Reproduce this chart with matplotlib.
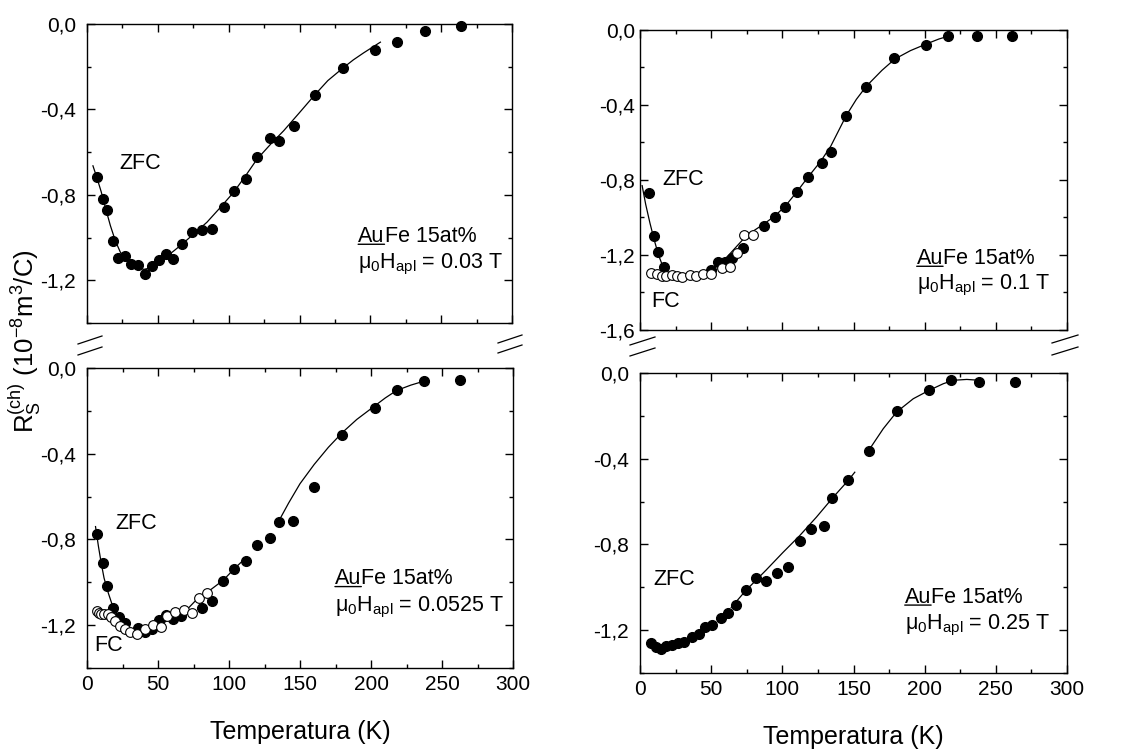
import matplotlib
matplotlib.use("Agg")
import matplotlib.pyplot as plt
from matplotlib.ticker import MultipleLocator, FuncFormatter
from matplotlib.lines import Line2D

plt.rcParams.update({
    "font.family": "Liberation Sans",
    "font.size": 15,
    "mathtext.default": "regular",
    "axes.linewidth": 1.0,
    "xtick.direction": "in",
    "ytick.direction": "in",
    "xtick.top": True,
    "ytick.right": True,
    "xtick.major.size": 6,
    "xtick.minor.size": 3,
    "ytick.major.size": 6,
    "ytick.minor.size": 3,
    "xtick.major.width": 1.0,
    "ytick.major.width": 1.0,
    "xtick.minor.width": 1.0,
    "ytick.minor.width": 1.0,
    "xtick.labelsize": 15,
    "ytick.labelsize": 15,
    "axes.unicode_minus": False,
})

# ---- data (T in K, R in 1e-8 m^3/C) ----
# mu0 H = 0.03 T
tl_T = [7.1, 11.3, 14.1, 18.4, 21.9, 26.6, 31.3, 35.8, 40.9, 45.9, 50.6, 56.0, 60.9, 67.1, 74.1,
        81.2, 88.2, 96.5, 104.0, 112.2, 120.0, 129.2, 135.8, 146.1, 160.9, 180.5, 203.3, 218.6, 238.4, 264.0]
tl_R = [-0.715, -0.819, -0.871, -1.017, -1.094, -1.088, -1.122, -1.130, -1.169, -1.133, -1.107, -1.079,
        -1.099, -1.031, -0.975, -0.964, -0.962, -0.857, -0.783, -0.726, -0.625, -0.532, -0.546, -0.477,
        -0.331, -0.207, -0.120, -0.084, -0.033, -0.008]
tl_fit_T = [4.2, 7, 10, 13, 16.5, 20, 23.5, 27, 32.9, 40, 45, 51.8, 58, 67.1, 75, 84.7, 94, 103.5,
            112, 120, 130, 138.8, 150, 160.9, 170, 180.5, 188, 195.3, 207.1]
tl_fit_R = [-0.664, -0.72, -0.785, -0.86, -0.944, -1.015, -1.068, -1.10, -1.130, -1.149, -1.142, -1.115,
            -1.08, -1.031, -0.985, -0.928, -0.86, -0.788, -0.71, -0.633, -0.56, -0.50, -0.415, -0.331,
            -0.265, -0.207, -0.168, -0.135, -0.085]

# mu0 H = 0.1 T
tr_T_zfc = [6.3, 9.8, 12.9, 16.9, 49.6, 54.8, 59.7, 64.9, 72.6, 87.1, 94.6, 101.9, 110.5, 118.3,
            127.6, 134.0, 144.5, 159.0, 178.5, 201.2, 216.6, 236.5, 261.6]
tr_R_zfc = [-0.871, -1.097, -1.182, -1.262, -1.280, -1.239, -1.236, -1.214, -1.164, -1.045, -0.999,
            -0.946, -0.862, -0.782, -0.711, -0.652, -0.459, -0.306, -0.151, -0.080, -0.032, -0.032, -0.032]
tr_T_fc = [8.0, 12.2, 15.2, 18.5, 22.7, 26.2, 29.7, 35.1, 39.6, 44.5, 49.6, 57.8, 63.0, 67.9, 73.1, 79.6]
tr_R_fc = [-1.294, -1.301, -1.312, -1.312, -1.308, -1.312, -1.316, -1.308, -1.312, -1.301, -1.301,
           -1.271, -1.266, -1.188, -1.093, -1.093]
tr_fit_T = [1.5, 4, 7, 10, 13, 16, 20, 28, 38, 48, 56, 63, 72, 80, 87, 95, 102, 110, 118, 127, 134,
            140, 145, 152, 159, 170, 179, 190, 201, 210, 218]
tr_fit_R = [-0.83, -0.93, -1.03, -1.12, -1.20, -1.26, -1.295, -1.31, -1.305, -1.285, -1.25, -1.195,
            -1.12, -1.07, -1.035, -0.99, -0.94, -0.865, -0.785, -0.70, -0.62, -0.53, -0.455, -0.37,
            -0.30, -0.215, -0.155, -0.11, -0.075, -0.048, -0.03]

# mu0 H = 0.0525 T
bl_T_zfc = [7.0, 11.2, 14.1, 18.3, 22.3, 27.0, 35.6, 41.0, 45.7, 50.4, 55.5, 60.7, 66.3, 80.9, 87.9,
            96.1, 103.6, 111.8, 119.5, 128.9, 135.2, 145.3, 160.1, 179.3, 202.7, 218.0, 237.4, 262.9]
bl_R_zfc = [-0.776, -0.912, -1.018, -1.122, -1.164, -1.192, -1.212, -1.231, -1.219, -1.177, -1.153,
            -1.169, -1.158, -1.122, -1.087, -0.993, -0.936, -0.902, -0.824, -0.793, -0.718, -0.714,
            -0.555, -0.314, -0.187, -0.101, -0.062, -0.058]
bl_T_fc = [7.0, 8.7, 10.1, 12.2, 14.5, 17.1, 19.9, 23.4, 27.0, 30.5, 35.2, 40.5, 46.4, 52.0, 56.2,
           62.1, 68.0, 73.8, 79.2, 84.4]
bl_R_fc = [-1.135, -1.141, -1.146, -1.146, -1.149, -1.161, -1.180, -1.203, -1.219, -1.231, -1.239,
           -1.219, -1.200, -1.208, -1.158, -1.138, -1.130, -1.143, -1.073, -1.052]
bl_fit1_T = [6, 8, 10, 12, 15, 18, 22, 27, 32, 37, 42, 48, 55, 62, 70, 78, 85, 96, 104, 112]
bl_fit1_R = [-0.74, -0.83, -0.91, -0.98, -1.05, -1.11, -1.165, -1.205, -1.228, -1.235, -1.228, -1.21,
             -1.185, -1.16, -1.13, -1.075, -1.045, -0.99, -0.935, -0.885]
bl_fit2_T = [135, 142, 150, 160, 170, 180, 190, 202, 210, 218, 228, 238]
bl_fit2_R = [-0.715, -0.63, -0.54, -0.45, -0.37, -0.30, -0.24, -0.18, -0.14, -0.105, -0.08, -0.06]

# mu0 H = 0.25 T
br_T = [7.7, 11.3, 14.8, 18.3, 22.5, 27.0, 31.2, 36.4, 41.3, 46.0, 50.7, 56.6, 61.7, 67.1, 74.2, 81.2,
        88.7, 96.2, 104.0, 112.2, 120.0, 129.1, 135.2, 146.2, 160.8, 180.3, 203.1, 218.5, 238.5, 263.6]
br_R = [-1.258, -1.278, -1.289, -1.273, -1.269, -1.261, -1.254, -1.234, -1.216, -1.187, -1.177, -1.144,
        -1.122, -1.081, -1.011, -0.957, -0.969, -0.935, -0.904, -0.782, -0.728, -0.712, -0.583, -0.499,
        -0.365, -0.175, -0.081, -0.034, -0.042, -0.042]
br_fit1_T = [64.1, 74.2, 88.7, 100.5, 112.2, 123.9, 135.7, 146.2, 150.9]
br_fit1_R = [-1.094, -1.016, -0.919, -0.837, -0.759, -0.673, -0.580, -0.502, -0.463]
br_fit2_T = [160.3, 170.9, 180.3, 192, 203.1, 213.1, 220.2, 229.6, 238.5]
br_fit2_R = [-0.365, -0.26, -0.182, -0.12, -0.081, -0.05, -0.034, -0.030, -0.034]

fields = ["0.03", "0.1", "0.0525", "0.25"]

W, H = 1130, 749
fig = plt.figure(figsize=(W / 100, H / 100), dpi=100)


def frac(l, t, r, b):
    return [l / W, 1 - b / H, (r - l) / W, (b - t) / H]


ax_tl = fig.add_axes(frac(87, 24, 512, 323))
ax_tr = fig.add_axes(frac(640, 30, 1067, 330))
ax_bl = fig.add_axes(frac(87, 368, 513, 668))
ax_br = fig.add_axes(frac(640, 373, 1067, 673))

comma = FuncFormatter(lambda v, p: f"{v:.1f}".replace(".", ",").replace("-0,0", "0,0"))


def style(ax, ymin, bottom, ypad=8):
    ax.set_xlim(0, 300)
    ax.set_ylim(ymin, 0)
    ax.xaxis.set_major_locator(MultipleLocator(50))
    ax.xaxis.set_minor_locator(MultipleLocator(25))
    ax.yaxis.set_major_locator(MultipleLocator(0.4))
    ax.yaxis.set_minor_locator(MultipleLocator(0.2))
    ax.yaxis.set_major_formatter(comma)
    ax.tick_params(axis="y", which="both", pad=ypad)
    ax.tick_params(axis="x", which="both", pad=5)
    if bottom:
        ax.set_xlabel("Temperatura (K)", fontsize=18, labelpad=19)
    else:
        ax.tick_params(axis="x", labelbottom=False)


def fit(ax, T, R):
    ax.plot(T, R, color="black", lw=0.9, zorder=1)


def zfc(ax, T, R):
    ax.plot(T, R, "o", color="black", ms=7, zorder=2, clip_on=False)


def fc(ax, T, R):
    ax.plot(T, R, "o", mfc="white", mec="black", mew=0.8, ms=7, zorder=3, clip_on=False)


def sample_label(ax, x, y1, y2, field):
    t = ax.text(x, y1, "Au", transform=ax.transAxes, fontsize=15.5, va="center", ha="left")
    ax.annotate("Fe 15at%", xy=(1, 0), xycoords=t, va="bottom", ha="left", fontsize=15.5)
    ax.annotate("", xy=(0, 0.12), xycoords=t, xytext=(1, 0.12), textcoords=t,
                arrowprops=dict(arrowstyle="-", lw=1.0, color="black", shrinkA=0, shrinkB=0))
    ax.text(x, y2, "$μ_0H_{apl}$ = " + field + " T", transform=ax.transAxes,
            fontsize=15.5, va="center", ha="left")


# top left
style(ax_tl, -1.4, False)
fit(ax_tl, tl_fit_T, tl_fit_R)
zfc(ax_tl, tl_T, tl_R)
ax_tl.text(0.075, 0.535, "ZFC", transform=ax_tl.transAxes, fontsize=15.5, va="center")
sample_label(ax_tl, 0.638, 0.29, 0.195, fields[0])

# top right
style(ax_tr, -1.6, False, ypad=3.5)
fit(ax_tr, tr_fit_T, tr_fit_R)
zfc(ax_tr, tr_T_zfc, tr_R_zfc)
fc(ax_tr, tr_T_fc, tr_R_fc)
ax_tr.text(0.052, 0.502, "ZFC", transform=ax_tr.transAxes, fontsize=15.5, va="center")
ax_tr.text(0.027, 0.094, "FC", transform=ax_tr.transAxes, fontsize=15.5, va="center")
sample_label(ax_tr, 0.648, 0.239, 0.15, fields[1])

# bottom left
style(ax_bl, -1.4, True)
fit(ax_bl, bl_fit1_T, bl_fit1_R)
fit(ax_bl, bl_fit2_T, bl_fit2_R)
zfc(ax_bl, bl_T_zfc, bl_R_zfc)
fc(ax_bl, bl_T_fc, bl_R_fc)
ax_bl.text(0.066, 0.481, "ZFC", transform=ax_bl.transAxes, fontsize=15.5, va="center")
ax_bl.text(0.018, 0.075, "FC", transform=ax_bl.transAxes, fontsize=15.5, va="center")
sample_label(ax_bl, 0.582, 0.298, 0.203, fields[2])

# bottom right
style(ax_br, -1.4, True)
fit(ax_br, br_fit1_T, br_fit1_R)
fit(ax_br, br_fit2_T, br_fit2_R)
zfc(ax_br, br_T, br_R)
ax_br.text(0.031, 0.311, "ZFC", transform=ax_br.transAxes, fontsize=15.5, va="center")
sample_label(ax_br, 0.62, 0.253, 0.159, fields[3])

fig.text(0.022, 0.545, r"$R_S^{(ch)}$ (10$^{-8}$m$^3$/C)", rotation=90,
         ha="center", va="center", fontsize=18.5)

# axis break marks between the panels
breaks = [
    [(78, 344), (102, 336)], [(78, 355), (102, 347)],
    [(498, 343), (522, 335)], [(498, 353), (522, 345)],
    [(630, 345), (655, 337)], [(630, 356), (655, 348)],
    [(1052, 343), (1078, 335)], [(1052, 355), (1078, 347)],
]
for (x0, y0), (x1, y1) in breaks:
    fig.add_artist(Line2D([x0 / W, x1 / W], [1 - y0 / H, 1 - y1 / H],
                          transform=fig.transFigure, color="black", lw=0.9))

fig.savefig("out.png", dpi=100)
